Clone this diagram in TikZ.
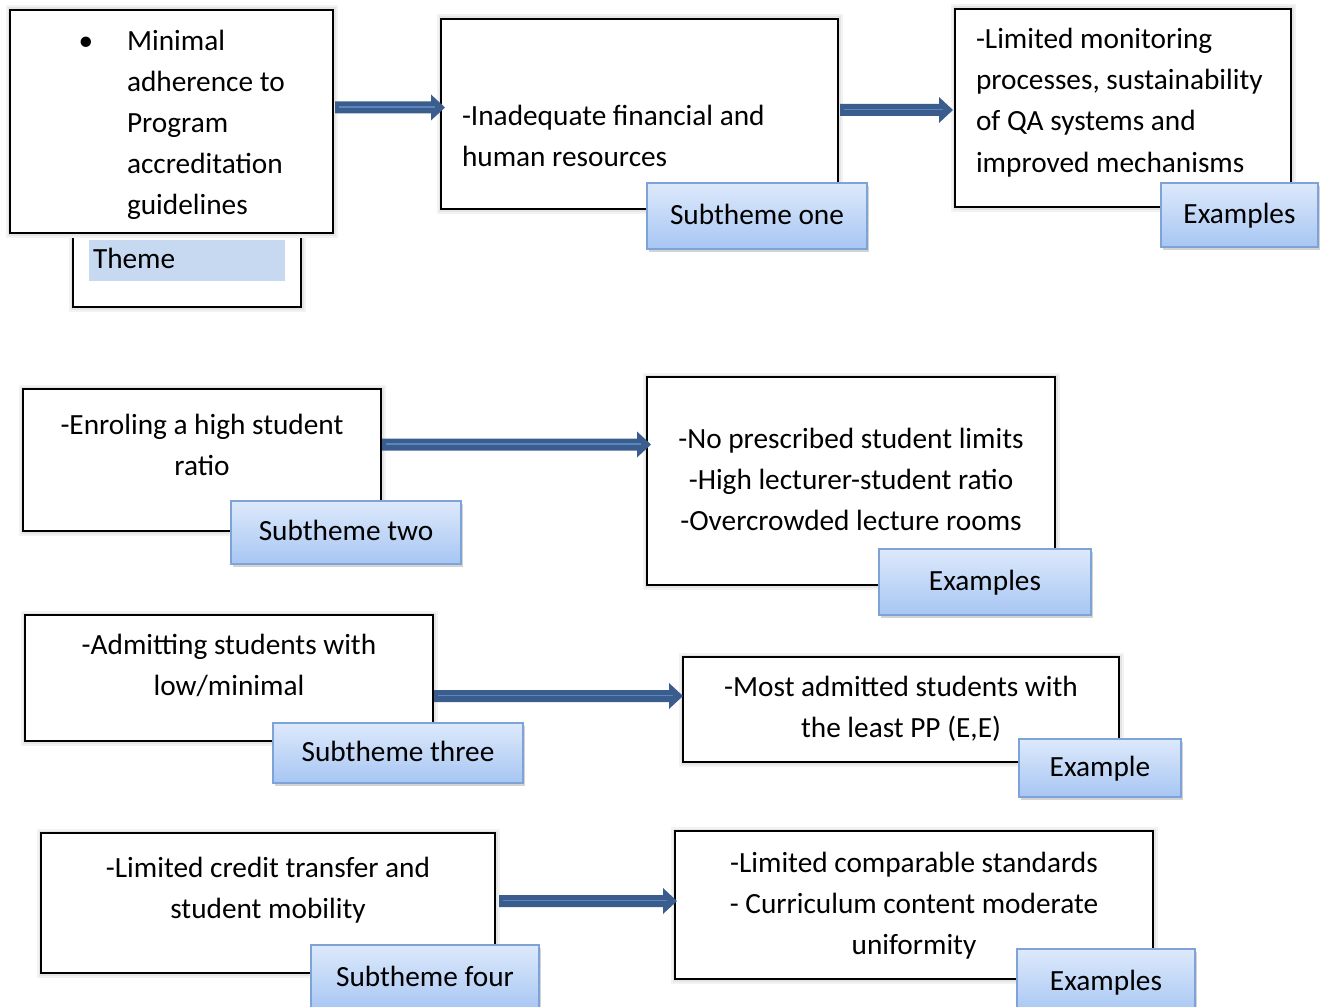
\documentclass[tikz,border=0pt]{standalone}
\usepackage{fontspec}
\setmainfont{Carlito}
\usetikzlibrary{calc,shadows}
\definecolor{arrowblue}{HTML}{3A5D8E}
\definecolor{arrowline}{HTML}{5A86BF}
\definecolor{tagtop}{HTML}{DDE9FB}
\definecolor{tagbot}{HTML}{A7C6F3}
\definecolor{tagborder}{HTML}{7EA3D6}
\definecolor{themehl}{HTML}{C6D9F0}
\newcommand{\blockarrow}[2]{%
  \fill[arrowblue] let \p1=(#1), \p2=(#2) in
    (\x1,\y1+6pt) -- (\x2-14pt,\y1+6pt) -- (\x2-14pt,\y1+13pt) -- (\x2,\y1)
    -- (\x2-14pt,\y1-13pt) -- (\x2-14pt,\y1-6pt) -- (\x1,\y1-6pt) -- cycle;
  \draw[midline] let \p1=(#1), \p2=(#2) in (\x1+4pt,\y1+0.5pt) -- (\x2-10pt,\y1+0.5pt);
}
\begin{document}
\begin{tikzpicture}[x=1pt,y=-1pt,
  every node/.style={font=\fontsize{29.3}{41.2}\selectfont, inner sep=0pt, outer sep=0pt},
  box/.style={draw=black, line width=1.8pt, fill=white, rectangle, anchor=north west,
    preaction={draw=black!5, line width=9pt},
    preaction={draw=black!10, line width=5pt}},
  tag/.style={draw=tagborder, line width=1.2pt, top color=tagtop, bottom color=tagbot,
    rectangle, anchor=north west,
    drop shadow={opacity=0.35, shadow xshift=1.5pt, shadow yshift=-3pt}},
  txt/.style={align=left},
  ctxt/.style={align=center},
  midline/.style={draw=arrowline, line width=1.3pt}
]
\useasboundingbox (0,0) rectangle (1327,1006);
\clip (0,0) rectangle (1327,1006);

% Theme
\node[box, minimum width=228pt, minimum height=74pt] (themelab) at (73,233) {};
\node[box, minimum width=323pt, minimum height=223pt] (theme) at (10,10) {};
\node[fill=themehl, minimum width=196pt, minimum height=41pt, anchor=north west] (themehl) at (89,240) {};
\node[anchor=west] (themetxt) at (93,260) {\strut Theme};
\node (bullet) at (86,42) {\strut •};
\node[txt, anchor=west] (themetext) at (127,124.3) {\strut Minimal\\\strut adherence to\\\strut Program\\\strut accreditation\\\strut guidelines};

% Row 1
\node[box, minimum width=397pt, minimum height=190pt] (b1) at (441,19) {};
\node[txt, anchor=west] (b1t) at (462,138) {\strut -Inadequate financial and\\\strut human resources};
\node[tag, minimum width=220pt, minimum height=66pt] (t1) at (647,183) {\strut Subtheme one};

\node[box, minimum width=336pt, minimum height=198pt] (b2) at (955,9) {};
\node[txt, anchor=west] (b2t) at (976,102) {\strut -Limited monitoring\\\strut processes, sustainability\\\strut of QA systems and\\\strut improved mechanisms};
\node[tag, minimum width=157pt, minimum height=64pt] (t2) at (1161,183) {\strut Examples};

% Row 2
\node[box, minimum width=358pt, minimum height=142pt] (b3) at (23,389) {};
\node[ctxt] (b3t) at (202,446.5) {\strut -Enroling a high student\\\strut ratio};
\node[tag, minimum width=230pt, minimum height=63pt] (t3) at (231,501) {\strut Subtheme two};

\node[box, minimum width=408pt, minimum height=208pt] (b4) at (647,377) {};
\node[ctxt] (b4t) at (851,481) {\strut -No prescribed student limits\\\strut -High lecturer-student ratio\\\strut -Overcrowded lecture rooms};
\node[tag, minimum width=212pt, minimum height=66pt] (t4) at (879,549) {\strut Examples};

% Row 3
\node[box, minimum width=408pt, minimum height=126pt] (b5) at (25,615) {};
\node[ctxt] (b5t) at (229,667) {\strut -Admitting students with\\\strut low/minimal};
\node[tag, minimum width=250pt, minimum height=60pt] (t5) at (273,723) {\strut Subtheme three};

\node[box, minimum width=436pt, minimum height=105pt] (b6) at (683,657) {};
\node[ctxt] (b6t) at (901,709) {\strut -Most admitted students with\\\strut the least PP (E,E)};
\node[tag, minimum width=162pt, minimum height=58pt] (t6) at (1019,739) {\strut Example};

% Row 4
\node[box, minimum width=454pt, minimum height=140pt] (b7) at (41,833) {};
\node[ctxt] (b7t) at (268,890) {\strut -Limited credit transfer and\\\strut student mobility};
\node[tag, minimum width=228pt, minimum height=66pt] (t7) at (311,945) {\strut Subtheme four};

\node[box, minimum width=478pt, minimum height=148pt] (b8) at (675,831) {};
\node[ctxt] (b8t) at (914,905.5) {\strut -Limited comparable standards\\\strut - Curriculum content moderate\\\strut uniformity};
\node[tag, minimum width=178pt, minimum height=66pt] (t8) at (1017,949) {\strut Examples};

% Arrows (block arrows from box to box)
\coordinate (a1s) at ([xshift=2pt]theme.east |- 0,107.5);
\coordinate (a1e) at ([xshift=4pt]b1.west |- 0,107.5);
\coordinate (a2s) at ([xshift=2pt]b1.east |- 0,110);
\coordinate (a2e) at ([xshift=-2pt]b2.west |- 0,110);
\coordinate (a3s) at ([xshift=1pt]b3.east |- 0,444.5);
\coordinate (a3e) at ([xshift=4pt]b4.west |- 0,444.5);
\coordinate (a4s) at ([xshift=1pt]b5.east |- 0,696);
\coordinate (a4e) at ([xshift=0pt]b6.west |- 0,696);
\coordinate (a5s) at ([xshift=4pt]b7.east |- 0,901);
\coordinate (a5e) at ([xshift=2pt]b8.west |- 0,901);
\blockarrow{a1s}{a1e}
\blockarrow{a2s}{a2e}
\blockarrow{a3s}{a3e}
\blockarrow{a4s}{a4e}
\blockarrow{a5s}{a5e}
\end{tikzpicture}
\end{document}
